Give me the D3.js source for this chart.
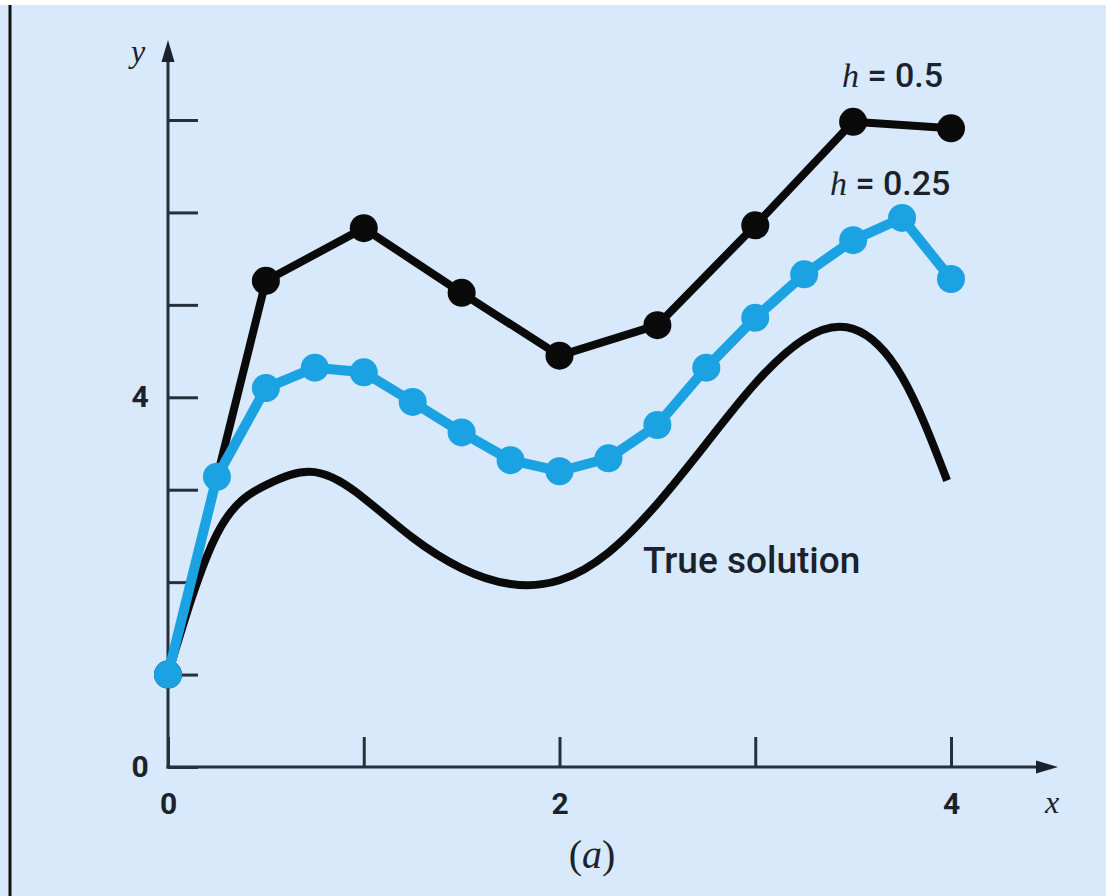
<!DOCTYPE html>
<html>
<head>
<meta charset="utf-8">
<script src="https://cdnjs.cloudflare.com/ajax/libs/d3/7.8.5/d3.min.js"></script>
<style>
  body { margin: 0; background: #d7e9fa; }
  svg { display: block; }
</style>
</head>
<body>
<svg id="chart"></svg>
<script>
// values
const xTicks = [0, 1, 2, 3, 4];
const xTickLabels = { 0: "0", 2: "2", 4: "4" };
const yTicks = [0, 1, 2, 3, 4, 5, 6, 7];
const yTickLabels = { 0: "0", 4: "4" };

// Euler, h = 0.5
const halfStepX = [0, 0.5, 1, 1.5, 2, 2.5, 3, 3.5, 4];
const halfStepY = [1.0, 5.26, 5.83, 5.13, 4.45, 4.78, 5.86, 6.98, 6.91];

// Euler, h = 0.25
const quarterStepX = [0, 0.25, 0.5, 0.75, 1, 1.25, 1.5, 1.75, 2, 2.25, 2.5, 2.75, 3, 3.25, 3.5, 3.75, 4];
const quarterStepY = [1.0, 3.14, 4.10, 4.32, 4.27, 3.95, 3.62, 3.32, 3.20, 3.34, 3.70, 4.32, 4.86, 5.33, 5.70, 5.94, 5.28];

// true solution, traced
const trueX = [0, 0.25, 0.5, 0.75, 1, 1.25, 1.5, 1.75, 2, 2.25, 2.5, 2.75, 3, 3.25, 3.5, 3.75, 3.98];
const trueY = [1.0, 2.52, 3.05, 3.19, 2.91, 2.48, 2.15, 1.98, 2.02, 2.32, 2.85, 3.50, 4.15, 4.63, 4.74, 4.22, 3.10];

class EulerChart {
  constructor(_config) {
    this.config = {
      parentElement: _config.parentElement,
      containerWidth: _config.containerWidth || 1106,
      containerHeight: _config.containerHeight || 896,
      margin: { top: 120, bottom: 129, right: 155, left: 168 }
    }
    this.initVis();
  }

  initVis() {
    let vis = this;

    vis.width = vis.config.containerWidth - vis.config.margin.left - vis.config.margin.right;
    vis.height = vis.config.containerHeight - vis.config.margin.top - vis.config.margin.bottom;

    vis.svg = d3.select(vis.config.parentElement)
        .attr('width', vis.config.containerWidth)
        .attr('height', vis.config.containerHeight);

    // background, white strip on top and the black rule at the left edge
    vis.svg.append('rect')
        .attr('width', vis.config.containerWidth)
        .attr('height', vis.config.containerHeight)
        .attr('fill', '#d7e9fa');
    vis.svg.append('rect')
        .attr('width', vis.config.containerWidth)
        .attr('height', 5)
        .attr('fill', '#ffffff');
    vis.svg.append('line')
        .attr('x1', 10).attr('x2', 10)
        .attr('y1', 5).attr('y2', vis.config.containerHeight)
        .attr('stroke', '#111')
        .attr('stroke-width', 3);

    vis.chart = vis.svg.append('g')
        .attr('transform', `translate(${vis.config.margin.left},${vis.config.margin.top})`);

    vis.xScale = d3.scaleLinear()
        .domain([0, 4])
        .range([0, vis.width]);

    vis.yScale = d3.scaleLinear()
        .domain([0, 7])
        .range([vis.height, 0]);

    const axisColor = '#26303b';

    // X axis (ticks point up into the plot)
    vis.xAxis = d3.axisBottom(vis.xScale)
        .tickValues(xTicks)
        .tickSize(-30)
        .tickSizeOuter(0)
        .tickPadding(26)
        .tickFormat(d => xTickLabels[d] || '');
    vis.xAxisG = vis.chart.append('g')
        .attr('transform', `translate(0,${vis.height})`)
        .call(vis.xAxis);

    // Y axis (ticks point right)
    vis.yAxis = d3.axisLeft(vis.yScale)
        .tickValues(yTicks)
        .tickSize(-30)
        .tickSizeOuter(0)
        .tickPadding(20)
        .tickFormat(d => yTickLabels[d] || '');
    vis.yAxisG = vis.chart.append('g')
        .call(vis.yAxis);

    vis.chart.selectAll('.domain').remove();
    vis.chart.selectAll('.tick line')
        .attr('stroke', axisColor)
        .attr('stroke-width', 3);
    vis.chart.selectAll('.tick text')
        .attr('fill', '#1b222b')
        .style('font-family', 'Roboto, "Liberation Sans", Arial, sans-serif')
        .style('font-weight', 'bold')
        .style('font-size', '30px');
    vis.yAxisG.selectAll('.tick text')
        .attr('text-anchor', 'middle')
        .attr('x', -28);

    // axis lines with arrowheads
    const yTop = -80, xEnd = vis.width + 107;
    vis.chart.append('line')
        .attr('x1', 0).attr('x2', 0)
        .attr('y1', vis.height + 1.5).attr('y2', yTop + 18)
        .attr('stroke', axisColor).attr('stroke-width', 3);
    vis.chart.append('line')
        .attr('x1', -1.5).attr('x2', xEnd - 18)
        .attr('y1', vis.height).attr('y2', vis.height)
        .attr('stroke', axisColor).attr('stroke-width', 3);
    vis.chart.append('path')
        .attr('d', `M0,${yTop} L-6.5,${yTop + 22} L6.5,${yTop + 22} Z`)
        .attr('fill', '#1b222b');
    vis.chart.append('path')
        .attr('d', `M${xEnd},${vis.height} L${xEnd - 22},${vis.height - 6.5} L${xEnd - 22},${vis.height + 6.5} Z`)
        .attr('fill', '#1b222b');

    // axis names
    vis.svg.append('text')
        .attr('x', 138)
        .attr('y', 62)
        .attr('text-anchor', 'middle')
        .style('font-family', '"Liberation Serif", "Times New Roman", serif')
        .style('font-style', 'italic')
        .style('font-size', '32px')
        .attr('fill', '#1b222b')
        .text('y');
    vis.svg.append('text')
        .attr('x', 1052)
        .attr('y', 813)
        .attr('text-anchor', 'middle')
        .style('font-family', '"Liberation Serif", "Times New Roman", serif')
        .style('font-style', 'italic')
        .style('font-size', '32px')
        .attr('fill', '#1b222b')
        .text('x');

    // (a)
    const cap = vis.svg.append('text')
        .attr('x', 592)
        .attr('y', 868)
        .attr('text-anchor', 'middle')
        .style('font-family', '"Liberation Serif", "Times New Roman", serif')
        .style('font-size', '40px')
        .attr('fill', '#1b222b');
    cap.append('tspan').text('(');
    cap.append('tspan').style('font-style', 'italic').text('a');
    cap.append('tspan').text(')');

    vis.renderVis();
  }

  renderVis() {
    let vis = this;

    const trueData = trueX.map((x, i) => ({ x: x, y: trueY[i] }));
    const halfData = halfStepX.map((x, i) => ({ x: x, y: halfStepY[i] }));
    const quarterData = quarterStepX.map((x, i) => ({ x: x, y: quarterStepY[i] }));

    const smooth = d3.line()
        .x(d => vis.xScale(d.x))
        .y(d => vis.yScale(d.y))
        .curve(d3.curveNatural);
    const straight = d3.line()
        .x(d => vis.xScale(d.x))
        .y(d => vis.yScale(d.y));

    vis.chart.append('path')
        .datum(trueData)
        .attr('fill', 'none')
        .attr('stroke', '#0a0a0a')
        .attr('stroke-width', 8)
        .attr('d', smooth);

    const series = [
      { data: halfData, color: '#0a0a0a', width: 8 },
      { data: quarterData, color: '#1ba2e3', width: 10 }
    ];

    series.forEach(s => {
      vis.chart.append('path')
          .datum(s.data)
          .attr('fill', 'none')
          .attr('stroke', s.color)
          .attr('stroke-width', s.width)
          .attr('stroke-linejoin', 'round')
          .attr('d', straight);
      vis.chart.selectAll(null)
          .data(s.data)
          .join('circle')
          .attr('cx', d => vis.xScale(d.x))
          .attr('cy', d => vis.yScale(d.y))
          .attr('r', 14)
          .attr('fill', s.color);
    });

    // labels
    const addH = (x, y, rest) => {
      const t = vis.svg.append('text')
          .attr('x', x)
          .attr('y', y)
          .attr('fill', '#1b222b')
          .style('font-size', '34px');
      t.append('tspan')
          .style('font-family', '"Liberation Serif", "Times New Roman", serif')
          .style('font-style', 'italic')
          .text('h');
      t.append('tspan')
          .style('font-family', 'Roboto, "Liberation Sans", Arial, sans-serif')
          .style('font-weight', '500')
          .text(rest);
    };
    addH(842, 87, ' = 0.5');
    addH(830, 195, ' = 0.25');

    vis.svg.append('text')
        .attr('x', 643)
        .attr('y', 573)
        .attr('fill', '#1b222b')
        .style('font-family', 'Roboto, "Liberation Sans", Arial, sans-serif')
        .style('font-weight', '500')
        .style('font-size', '37px')
        .text('True solution');
  }
}

new EulerChart({ parentElement: '#chart' });
</script>
</body>
</html>
